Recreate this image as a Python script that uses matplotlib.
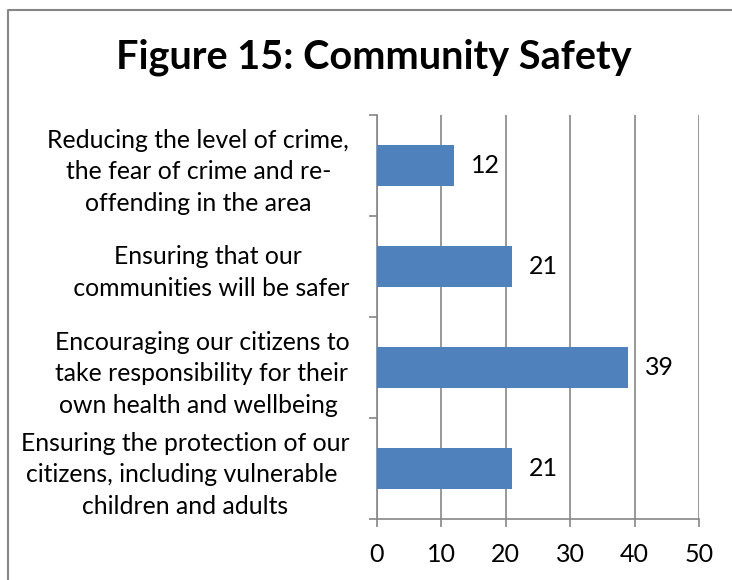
import matplotlib
matplotlib.use("Agg")
import matplotlib.pyplot as plt
from matplotlib.lines import Line2D
from matplotlib.ticker import FixedLocator

# data, top to bottom as in the chart
categories = [
    "Reducing the level of crime,\nthe fear of crime and re-\noffending in the area",
    "Ensuring that our\n communities will be safer",
    "Encouraging our citizens to\ntake responsibility for their\nown health and wellbeing ",
    "Ensuring the protection of our\ncitizens, including vulnerable \nchildren and adults",
]
values = [12, 21, 39, 21]
x_ticks = [0, 10, 20, 30, 40, 50]

plt.rcParams['font.family'] = ['Lato', 'DejaVu Sans']
grey = '#868686'
bar_color = '#4F81BD'

fig = plt.figure(figsize=(7.32, 5.8), dpi=100)
ax = fig.add_axes([377 / 732, 1 - 519 / 580, (699 - 377) / 732, (519 - 115) / 580])

pos = list(range(len(categories)))
ax.barh(pos, values, height=0.4, color=bar_color, zorder=3)
ax.set_ylim(len(categories) - 0.5, -0.5)
ax.set_xlim(0, 50)

# value labels
for p, v in zip(pos, values):
    ax.annotate(str(v), (v, p), xytext=(12, 0), textcoords='offset points',
                va='center', ha='left', fontsize=18)

# axes styling
ax.set_xticks(x_ticks)
ax.set_xticklabels([str(t) for t in x_ticks], fontsize=18)
ax.grid(axis='x', color=grey, linewidth=1.2, zorder=0)
ax.tick_params(axis='x', length=6, width=1.2, color=grey, pad=11)

ax.set_yticks(pos)
ax.set_yticklabels(categories, fontsize=17.8, ma='center', linespacing=1.45)
ax.yaxis.set_minor_locator(FixedLocator([i - 0.5 for i in range(len(categories) + 1)]))
ax.tick_params(axis='y', which='major', length=0, pad=20)
ax.tick_params(axis='y', which='minor', length=6, width=1.2, color=grey)

for side in ['top', 'right']:
    ax.spines[side].set_visible(False)
for side in ['left', 'bottom']:
    ax.spines[side].set_color(grey)
    ax.spines[side].set_linewidth(1.2)

fig.text(374 / 732, 1 - 57 / 580, "Figure 15: Community Safety", ha='center', va='center',
         fontsize=28.5, fontweight='bold')

# chart border: only its left and top edges fall inside the picture
bx, by = 8 / 732, 1 - 10 / 580
fig.add_artist(Line2D([bx, bx, 1.01], [-0.01, by, by], transform=fig.transFigure,
                      color=grey, linewidth=1.5))

fig.savefig("out.png", dpi=100)
